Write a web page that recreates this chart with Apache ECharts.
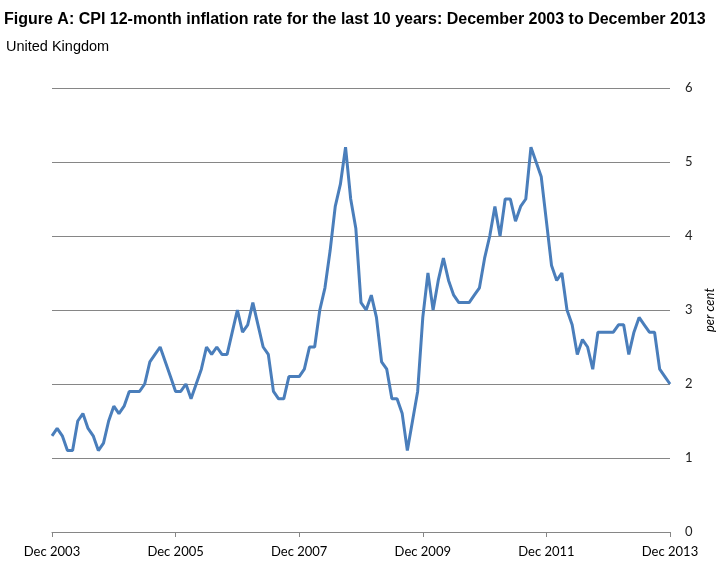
<!DOCTYPE html>
<html>
<head>
<meta charset="utf-8">
<script src="https://cdn.jsdelivr.net/npm/echarts@6/dist/echarts.min.js"></script>
<style>
html,body{margin:0;padding:0;background:#fff;}
#c{width:722px;height:576px;}
</style>
</head>
<body>
<div id="c"></div>
<script>
// Month labels Dec 2003 .. Dec 2013
var months = ['Jan','Feb','Mar','Apr','May','Jun','Jul','Aug','Sep','Oct','Nov','Dec'];
var startYear = 2003, startMonth = 11, monthCount = 121;
var categories = [];
for (var i = 0; i < monthCount; i++) {
  var m = (startMonth + i) % 12;
  var y = startYear + Math.floor((startMonth + i) / 12);
  categories.push(months[m] + ' ' + y);
}

var cpiRate = [
  1.3,
  1.4,1.3,1.1,1.1,1.5,1.6,1.4,1.3,1.1,1.2,1.5,1.7,
  1.6,1.7,1.9,1.9,1.9,2.0,2.3,2.4,2.5,2.3,2.1,1.9,
  1.9,2.0,1.8,2.0,2.2,2.5,2.4,2.5,2.4,2.4,2.7,3.0,
  2.7,2.8,3.1,2.8,2.5,2.4,1.9,1.8,1.8,2.1,2.1,2.1,
  2.2,2.5,2.5,3.0,3.3,3.8,4.4,4.7,5.2,4.5,4.1,3.1,
  3.0,3.2,2.9,2.3,2.2,1.8,1.8,1.6,1.1,1.5,1.9,2.9,
  3.5,3.0,3.4,3.7,3.4,3.2,3.1,3.1,3.1,3.2,3.3,3.7,
  4.0,4.4,4.0,4.5,4.5,4.2,4.4,4.5,5.2,5.0,4.8,4.2,
  3.6,3.4,3.5,3.0,2.8,2.4,2.6,2.5,2.2,2.7,2.7,2.7,
  2.7,2.8,2.8,2.4,2.7,2.9,2.8,2.7,2.7,2.2,2.1,2.0
];

var yTicks = [0,1,2,3,4,5,6];

var chart = echarts.init(document.getElementById('c'), null, {renderer:'canvas'});
chart.setOption({
  animation: false,
  backgroundColor: '#ffffff',
  title: [
    {text: 'Figure A: CPI 12-month inflation rate for the last 10 years: December 2003 to December 2013',
     left: 4, top: 12, padding: 0,
     textStyle: {fontFamily: 'Liberation Sans, Arial', fontSize: 16, fontWeight: 'bold', color: '#000'}},
    {text: 'United Kingdom', left: 6, top: 39, padding: 0,
     textStyle: {fontFamily: 'Liberation Sans, Arial', fontSize: 14.5, fontWeight: 'normal', color: '#000'}}
  ],
  grid: {left: 52, right: 52, top: 88, bottom: 44, containLabel: false, outerBoundsMode: 'none'},
  xAxis: {
    type: 'category',
    data: categories,
    boundaryGap: false,
    axisLine: {show: true, lineStyle: {color: '#868686', width: 1}},
    axisTick: {show: true, interval: 23, length: 5, lineStyle: {color: '#868686'}},
    axisLabel: {interval: 23, margin: 13, color: '#000', fontFamily: 'Lato, Noto Sans', fontSize: 13},
    splitLine: {show: false}
  },
  yAxis: {
    type: 'value',
    position: 'right',
    min: yTicks[0], max: yTicks[yTicks.length-1], interval: 1,
    name: 'per cent',
    nameLocation: 'middle',
    nameRotate: 90,
    nameGap: 30,
    nameTextStyle: {fontStyle: 'italic', fontFamily: 'Lato, Noto Sans', fontSize: 13, color: '#000'},
    axisLine: {show: false},
    axisTick: {show: false},
    axisLabel: {margin: 15, color: '#222', fontFamily: 'Lato, Noto Sans', fontSize: 13},
    splitLine: {show: true, lineStyle: {color: '#868686', width: 1}}
  },
  series: [{
    type: 'line',
    data: cpiRate,
    symbol: 'none',
    lineStyle: {color: '#4a7ebb', width: 3},
    itemStyle: {color: '#4a7ebb'}
  }]
});
</script>
</body>
</html>
